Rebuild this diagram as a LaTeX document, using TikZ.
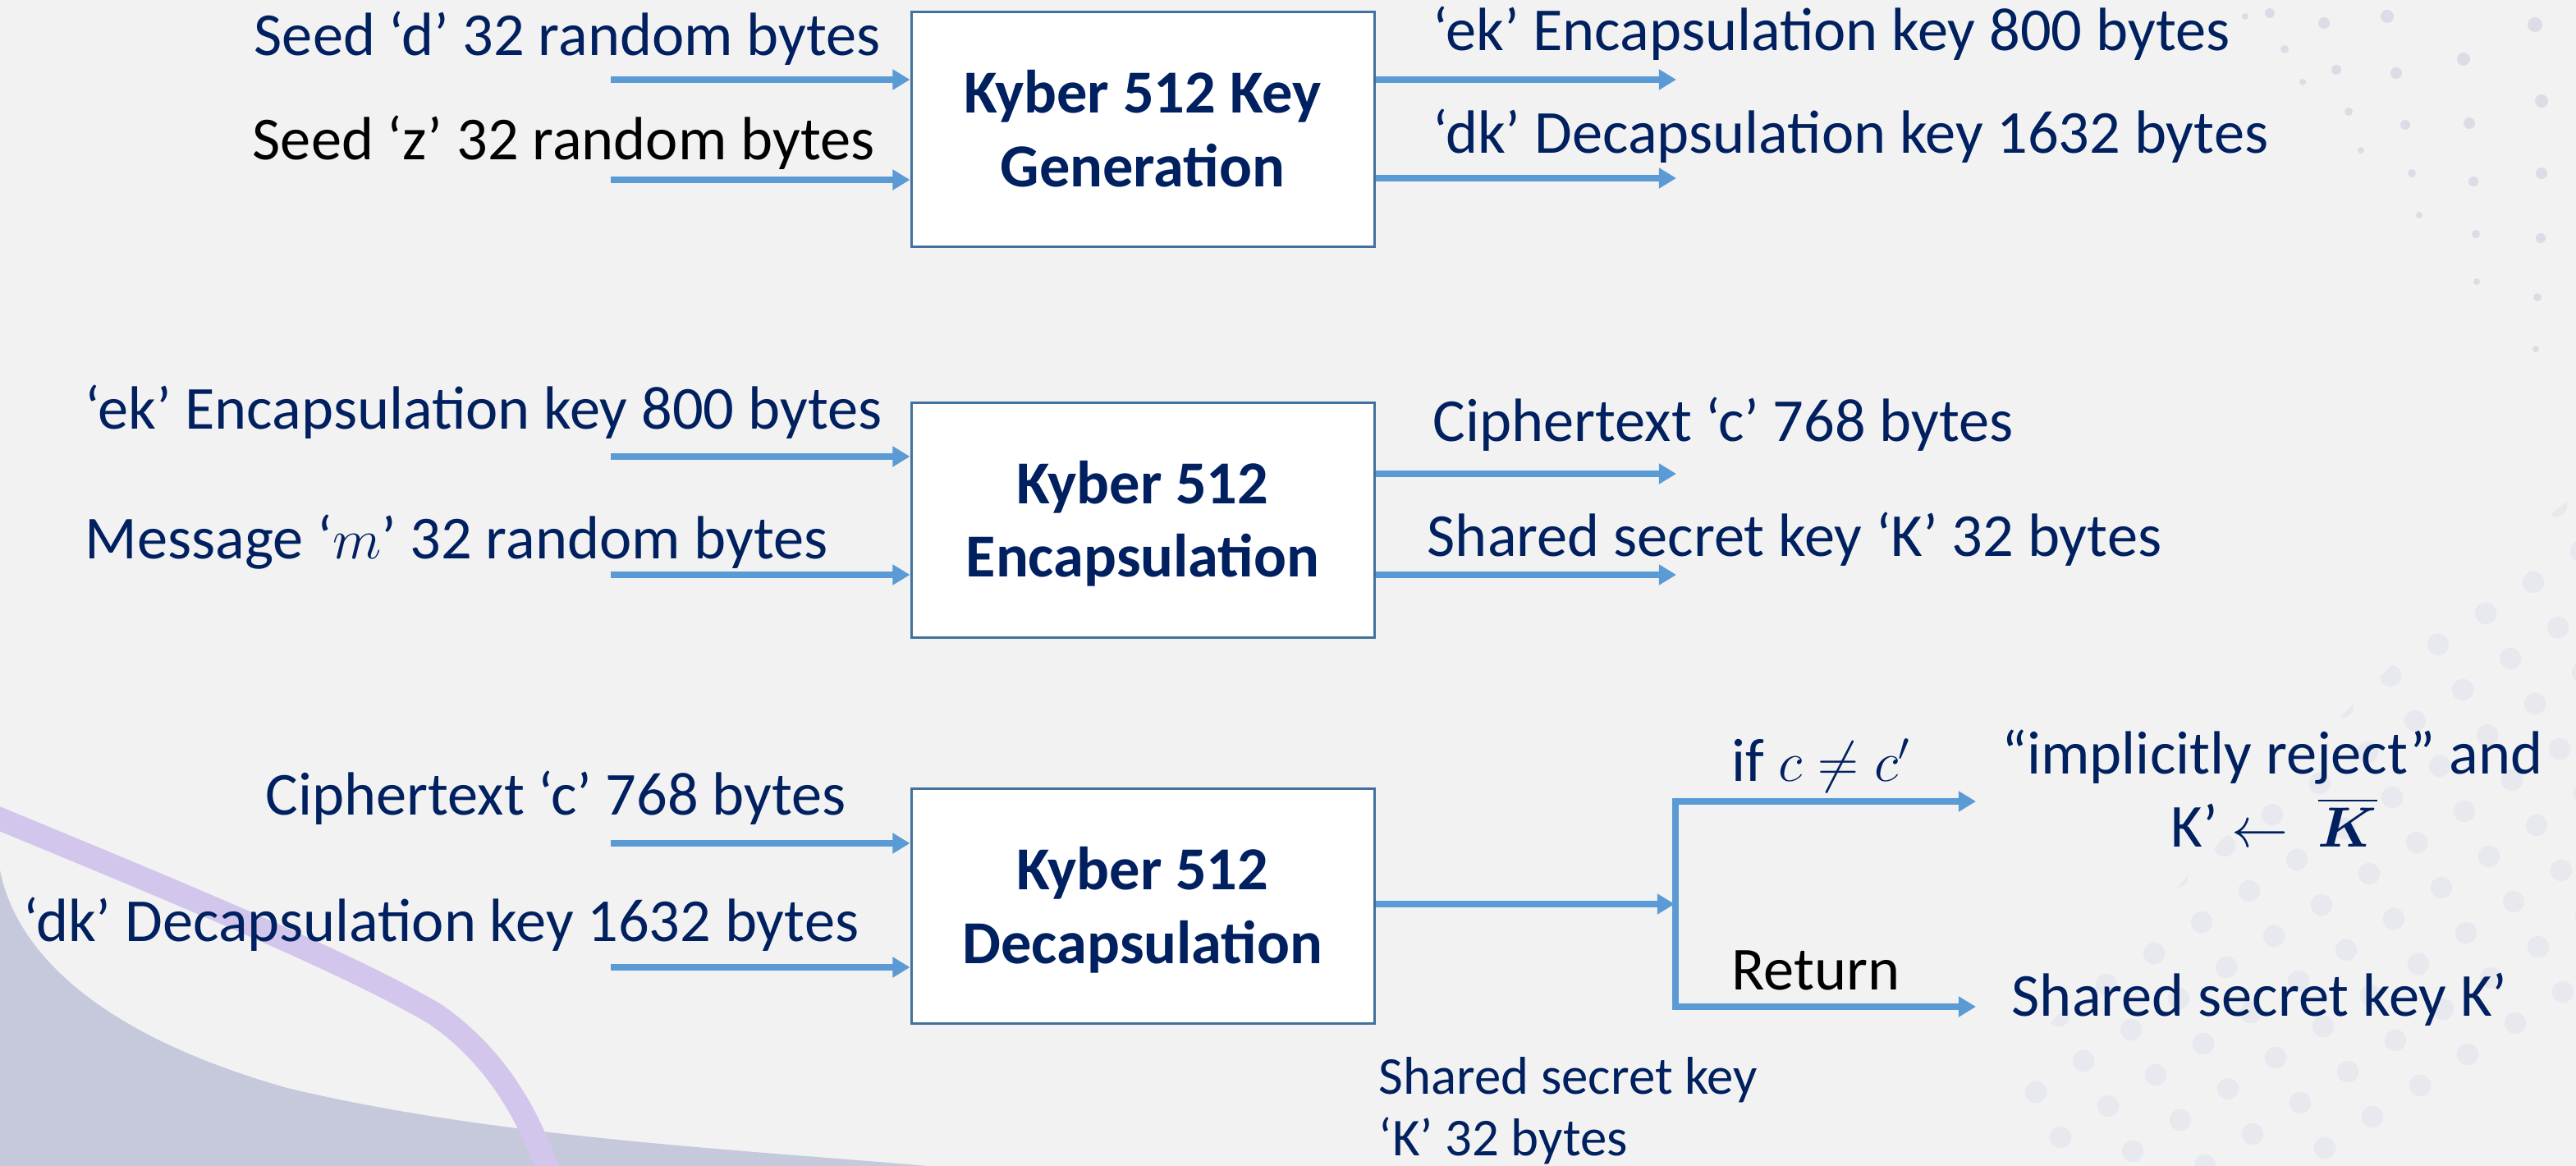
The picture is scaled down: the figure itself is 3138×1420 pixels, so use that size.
\documentclass[tikz,border=0pt]{standalone}
\usepackage{amsmath}
\usepackage{fontspec}
\setmainfont{Carlito}
\usetikzlibrary{arrows.meta}

\definecolor{navy}{HTML}{002060}
\definecolor{flowblue}{HTML}{5B9BD5}
\definecolor{boxedge}{HTML}{41719C}
\definecolor{canvas}{HTML}{F2F2F2}
\definecolor{wave}{HTML}{C5C9DB}
\definecolor{ribbon}{HTML}{D3C6EC}
\definecolor{speck}{HTML}{DCDCE6}
\definecolor{bubble}{HTML}{E8E8EF}

\begin{document}
\begin{tikzpicture}[x=0.25pt,y=-0.25pt,
  txt/.style={inner sep=0pt, anchor=base west, text=navy,
    font=\fontsize{18.6pt}{22pt}\selectfont},
  dark/.style={txt, text=black},
  small/.style={txt, font=\fontsize{16.2pt}{19pt}\selectfont},
  title/.style={txt, anchor=base, font=\fontsize{18.6pt}{22pt}\selectfont\bfseries},
  stage/.style={draw=boxedge, fill=white, line width=0.75pt,
    minimum width=141pt, minimum height=71.5pt, inner sep=0pt},
  flow/.style={draw=flowblue, line width=1.9pt,
    -{Triangle[width=6pt,length=5.3pt]}},
  fork/.style={draw=flowblue, line width=1.9pt, line join=miter,
    {Triangle[width=6pt,length=5.3pt]}-{Triangle[width=6pt,length=5.3pt]}}
]
% canvas
\fill[canvas] (0,0) rectangle (3138,1420);
\useasboundingbox (0,0) rectangle (3138,1420);

% decorative backdrop
\begin{scope}
  \clip (0,0) rectangle (3138,1420);
  \fill[wave] (0,1060) .. controls (20,1160) and (120,1260) .. (350,1325)
    .. controls (600,1385) and (900,1400) .. (1130,1420) -- (0,1420) -- cycle;
  \draw[ribbon, line width=7pt] (-30,985) .. controls (200,1080) and (420,1170) .. (530,1235)
    .. controls (610,1290) and (650,1370) .. (672,1440);
  % fine specks, upper right
  \foreach \px/\py/\r in {2735/20/4,2765/16/6,2783/60/5,2805/100/4,2831/28/7,2846/85/6,
      2861/136/5,2876/183/4,2908/20/8,2919/89/7,2930/152/6,2938/211/5,2947/262/4,
      3001/72/8,3008/150/7,3013/221/6,3016/285/5,3017/343/4,3088/30/9,3096/123/8,
      3096/211/7,3095/290/6,3091/362/5,3089/425/4}
    \fill[speck] (\px,\py) circle[radius=\r*0.25pt];
  % soft bubbles, lower right
  \begin{scope}
    \clip (2330,1420) .. controls (2550,1200) and (2850,850) .. (3138,600) -- (3138,1420) -- cycle;
    \foreach \i in {0,...,14}
      \foreach \j in {-10,...,10}
        \fill[bubble] ({2300+58*\i+30*\j},{1000-38*\i+55*\j}) circle[radius=3.3pt];
  \end{scope}
\end{scope}

% ---------------- key generation ----------------
\node[stage] (kg) at (1392,158) {};
\node[title] (kgt1) at (1392,138) {Kyber 512 Key};
\node[title] (kgt2) at (1392,228) {Generation};
\node[txt]  (seedd) at (309,68) {Seed ‘d’ 32 random bytes};
\node[dark] (seedz) at (307,195) {Seed ‘z’ 32 random bytes};
\node[txt]  (ekout) at (1745,62) {‘ek’ Encapsulation key 800 bytes};
\node[txt]  (dkout) at (1745,187) {‘dk’ Decapsulation key 1632 bytes};
\coordinate (kgin1) at (744,97);
\coordinate (kgin2) at (744,219);
\coordinate (kgout1) at (2042,97);
\coordinate (kgout2) at (2042,217);
\draw[flow] (kgin1) -- (kgin1 -| kg.west);
\draw[flow] (kgin2) -- (kgin2 -| kg.west);
\draw[flow] (kgout1 -| kg.east) -- (kgout1);
\draw[flow] (kgout2 -| kg.east) -- (kgout2);

% ---------------- encapsulation ----------------
\node[stage] (enc) at (1392,633.5) {};
\node[title] (enct1) at (1392,614) {Kyber 512};
\node[title] (enct2) at (1392,703) {Encapsulation};
\node[txt] (ekin) at (103,523) {‘ek’ Encapsulation key 800 bytes};
\node[txt] (msgin) at (103,681) {Message ‘$m$’ 32 random bytes};
\node[txt] (ctout) at (1745,538) {Ciphertext ‘c’ 768 bytes};
\node[txt] (ssout) at (1738,678) {Shared secret key ‘K’ 32 bytes};
\coordinate (encin1) at (744,556);
\coordinate (encin2) at (744,700);
\coordinate (encout1) at (2042,577);
\coordinate (encout2) at (2042,700);
\draw[flow] (encin1) -- (encin1 -| enc.west);
\draw[flow] (encin2) -- (encin2 -| enc.west);
\draw[flow] (encout1 -| enc.east) -- (encout1);
\draw[flow] (encout2 -| enc.east) -- (encout2);

% ---------------- decapsulation ----------------
\node[stage] (dec) at (1392,1104) {};
\node[title] (dect1) at (1392,1084) {Kyber 512};
\node[title] (dect2) at (1392,1174) {Decapsulation};
\node[txt] (ctin) at (323,993) {Ciphertext ‘c’ 768 bytes};
\node[txt] (dkin) at (28,1147) {‘dk’ Decapsulation key 1632 bytes};
\node[small] (ssnote1) at (1679,1333) {Shared secret key};
\node[small] (ssnote2) at (1679,1408) {‘K’ 32 bytes};
\coordinate (decin1) at (744,1027);
\coordinate (decin2) at (744,1178);
\draw[flow] (decin1) -- (decin1 -| dec.west);
\draw[flow] (decin2) -- (decin2 -| dec.west);

% check of the ciphertext and the two outcomes
\coordinate (split) at (2040,1101);
\coordinate (splithi) at (2041,976);
\coordinate (splitlo) at (2041,1226);
\coordinate (rejtip) at (2407,976);
\coordinate (rettip) at (2407,1226);
\draw[flow] (dec.east |- split) -- (split);
\draw[fork] (rejtip) -- (splithi) -- (splitlo) -- (rettip);
\node[txt] (cond) at (2109,952) {if $c \neq c'$};
\node[dark] (ret) at (2109,1206) {Return};
\node[txt, anchor=base] (rej1) at (2768,943) {“implicitly reject” and};
\node[txt, anchor=base] (rej2) at (2770,1032) {K’ $\leftarrow\ \overline{\boldsymbol{K}}$};
\node[txt] (kfinal) at (2450,1238) {Shared secret key K’};
\end{tikzpicture}
\end{document}
